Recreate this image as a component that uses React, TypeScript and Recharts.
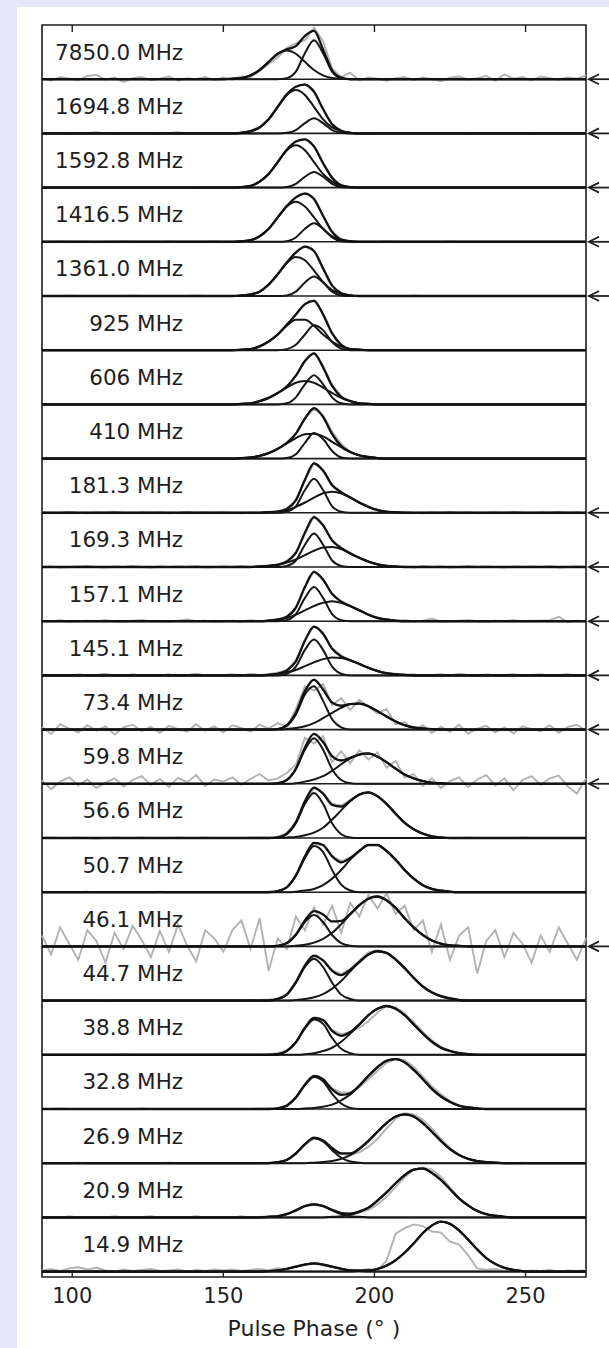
import React from 'react';
import { LineChart, Line, XAxis, YAxis, ReferenceLine, ReferenceArea, ReferenceDot } from 'recharts';

const FONT = '"DejaVu Sans", sans-serif';
const INK = '#1e1e1e';

// pulse phase grid (degrees)
const PHASE_START = 90;
const PHASE_END = 270;
const PHASE_STEP = 3;
const PHASE_TICKS = [100, 150, 200, 250];

// one panel per observing frequency, top to bottom
const LABELS = [
  '7850.0 MHz', '1694.8 MHz', '1592.8 MHz', '1416.5 MHz', '1361.0 MHz', '925 MHz',
  '606 MHz', '410 MHz', '181.3 MHz', '169.3 MHz', '157.1 MHz', '145.1 MHz',
  '73.4 MHz', '59.8 MHz', '56.6 MHz', '50.7 MHz', '46.1 MHz', '44.7 MHz',
  '38.8 MHz', '32.8 MHz', '26.9 MHz', '20.9 MHz', '14.9 MHz',
];

// panels marked with an arrow on the right
const MARKED = [
  true, true, true, true, true, false,
  false, false, true, true, true, true,
  true, true, false, false, true, false,
  false, false, false, false, false,
];

// fitted components: [first phase, values every 3 deg], in panel heights
const NARROW: [number, number[]][] = [
  [171, [0.02, 0.14, 0.48, 0.72, 0.48, 0.14, 0.02]],
  [171, [0.01, 0.06, 0.19, 0.28, 0.19, 0.06, 0.01]],
  [171, [0.01, 0.07, 0.20, 0.29, 0.20, 0.07, 0.01]],
  [171, [0.01, 0.08, 0.24, 0.34, 0.24, 0.08, 0.01]],
  [171, [0.01, 0.08, 0.25, 0.36, 0.25, 0.08, 0.01]],
  [171, [0.02, 0.10, 0.29, 0.46, 0.37, 0.15, 0.03]],
  [171, [0.02, 0.13, 0.37, 0.54, 0.37, 0.13, 0.02]],
  [171, [0.01, 0.08, 0.29, 0.47, 0.36, 0.14, 0.02]],
  [171, [0.02, 0.12, 0.42, 0.63, 0.42, 0.12, 0.02]],
  [171, [0.02, 0.12, 0.41, 0.62, 0.41, 0.12, 0.02]],
  [171, [0.02, 0.13, 0.43, 0.63, 0.43, 0.13, 0.02]],
  [171, [0.03, 0.16, 0.47, 0.66, 0.47, 0.16, 0.03]],
  [168, [0.01, 0.07, 0.28, 0.65, 0.80, 0.53, 0.19, 0.04]],
  [168, [0.01, 0.07, 0.27, 0.63, 0.84, 0.63, 0.27, 0.07, 0.01]],
  [168, [0.01, 0.07, 0.27, 0.63, 0.83, 0.63, 0.27, 0.07, 0.01]],
  [168, [0.02, 0.09, 0.30, 0.63, 0.85, 0.74, 0.41, 0.14, 0.03]],
  [168, [0.01, 0.06, 0.21, 0.45, 0.58, 0.45, 0.21, 0.06, 0.01]],
  [168, [0.03, 0.11, 0.33, 0.62, 0.77, 0.62, 0.33, 0.11, 0.03]],
  [168, [0.01, 0.07, 0.23, 0.49, 0.65, 0.57, 0.31, 0.11, 0.03]],
  [168, [0.01, 0.06, 0.21, 0.44, 0.59, 0.51, 0.28, 0.10, 0.02]],
  [168, [0.02, 0.06, 0.18, 0.35, 0.46, 0.40, 0.24, 0.10, 0.03, 0.01]],
  [165, [0.01, 0.02, 0.06, 0.13, 0.21, 0.24, 0.21, 0.13, 0.06, 0.02, 0.01]],
  [165, [0.01, 0.02, 0.05, 0.09, 0.13, 0.15, 0.13, 0.09, 0.05, 0.02, 0.01]],
];

const BROAD: [number, number[]][] = [
  [153, [0.01, 0.02, 0.07, 0.17, 0.32, 0.47, 0.53, 0.47, 0.32, 0.17, 0.07, 0.02, 0.01]],
  [156, [0.01, 0.04, 0.11, 0.26, 0.49, 0.71, 0.80, 0.71, 0.49, 0.26, 0.11, 0.04, 0.01]],
  [156, [0.01, 0.03, 0.11, 0.25, 0.47, 0.69, 0.78, 0.69, 0.47, 0.25, 0.11, 0.03, 0.01]],
  [156, [0.01, 0.03, 0.10, 0.24, 0.45, 0.65, 0.74, 0.65, 0.45, 0.24, 0.10, 0.03, 0.01]],
  [156, [0.01, 0.03, 0.08, 0.21, 0.40, 0.61, 0.72, 0.66, 0.47, 0.26, 0.11, 0.04, 0.01]],
  [156, [0.01, 0.02, 0.07, 0.16, 0.29, 0.45, 0.56, 0.56, 0.45, 0.29, 0.16, 0.07, 0.02, 0.01]],
  [156, [0.01, 0.02, 0.06, 0.12, 0.21, 0.31, 0.40, 0.43, 0.40, 0.31, 0.21, 0.12, 0.06, 0.02, 0.01]],
  [156, [0.01, 0.02, 0.05, 0.10, 0.18, 0.28, 0.38, 0.45, 0.46, 0.41, 0.31, 0.21, 0.12, 0.06, 0.03, 0.01]],
  [165, [0.01, 0.02, 0.05, 0.11, 0.19, 0.28, 0.36, 0.39, 0.36, 0.28, 0.19, 0.11, 0.05, 0.02, 0.01]],
  [162, [0.01, 0.02, 0.04, 0.08, 0.14, 0.22, 0.30, 0.36, 0.37, 0.33, 0.25, 0.17, 0.10, 0.05, 0.02, 0.01]],
  [165, [0.01, 0.03, 0.06, 0.12, 0.20, 0.28, 0.34, 0.37, 0.34, 0.28, 0.20, 0.12, 0.06, 0.03, 0.01]],
  [165, [0.01, 0.03, 0.06, 0.10, 0.17, 0.24, 0.30, 0.33, 0.32, 0.28, 0.21, 0.14, 0.08, 0.04, 0.02, 0.01]],
  [171, [0.01, 0.03, 0.06, 0.12, 0.21, 0.31, 0.40, 0.47, 0.48, 0.43, 0.34, 0.24, 0.15, 0.08, 0.04, 0.02, 0.01]],
  [174, [0.01, 0.04, 0.08, 0.14, 0.24, 0.36, 0.47, 0.54, 0.56, 0.50, 0.40, 0.28, 0.17, 0.10, 0.05, 0.02, 0.01]],
  [171, [0.01, 0.02, 0.05, 0.10, 0.19, 0.34, 0.51, 0.68, 0.80, 0.84, 0.77, 0.63, 0.45, 0.28, 0.16, 0.08, 0.03, 0.01]],
  [174, [0.01, 0.03, 0.06, 0.13, 0.25, 0.41, 0.60, 0.76, 0.87, 0.87, 0.76, 0.60, 0.41, 0.25, 0.13, 0.06, 0.03, 0.01]],
  [174, [0.01, 0.03, 0.07, 0.14, 0.25, 0.41, 0.59, 0.76, 0.88, 0.92, 0.85, 0.71, 0.52, 0.35, 0.21, 0.11, 0.05, 0.02, 0.01]],
  [174, [0.01, 0.03, 0.06, 0.12, 0.22, 0.36, 0.54, 0.71, 0.85, 0.91, 0.88, 0.76, 0.60, 0.42, 0.26, 0.15, 0.08, 0.04, 0.01]],
  [177, [0.01, 0.03, 0.07, 0.13, 0.24, 0.39, 0.56, 0.73, 0.85, 0.90, 0.85, 0.73, 0.56, 0.39, 0.24, 0.13, 0.07, 0.03, 0.01]],
  [177, [0.01, 0.02, 0.04, 0.08, 0.16, 0.27, 0.43, 0.61, 0.77, 0.89, 0.92, 0.86, 0.72, 0.55, 0.37, 0.23, 0.13, 0.06, 0.03, 0.01]],
  [180, [0.01, 0.02, 0.04, 0.08, 0.15, 0.26, 0.41, 0.58, 0.74, 0.86, 0.90, 0.86, 0.74, 0.58, 0.41, 0.26, 0.15, 0.08, 0.04, 0.02, 0.01]],
  [186, [0.01, 0.02, 0.05, 0.10, 0.18, 0.31, 0.46, 0.63, 0.78, 0.88, 0.90, 0.82, 0.69, 0.52, 0.35, 0.22, 0.12, 0.06, 0.03, 0.01]],
  [195, [0.01, 0.02, 0.05, 0.11, 0.21, 0.35, 0.52, 0.71, 0.85, 0.92, 0.88, 0.76, 0.59, 0.41, 0.25, 0.14, 0.07, 0.03, 0.01]],
];

// observed profiles, 90..270 deg every 3 deg, in panel heights
const OBSERVED: number[][] = [
  [0.02, -0.03, 0.04, 0.01, -0.02, 0.06, 0.08, -0.01, 0.03, -0.05, 0.02, 0.04, -0.02, 0.01, 0.05, -0.03, 0.02, 0, 0.04, -0.02,
    0.03, -0.01, 0.05, 0.04, 0.15, 0.28, 0.40, 0.58, 0.66, 0.72, 0.95, 0.70, 0.20, 0.04, 0.12, -0.02, 0.03, 0.01, -0.03, 0.02, 0.04, -0.02, 0.03, 0, -0.04, 0.03, 0.05, -0.01, 0.02, 0.06, -0.03, 0.09, 0.01, 0.04, -0.02,
    0.05, 0.02, -0.01, 0.03, 0.01, 0.07],
  [0.01, 0, 0.01, -0.01, 0, 0.01, 0.02, 0, -0.01, 0.01, 0, 0.01, 0, -0.01, 0.01, 0.02, 0, 0.01, 0, 0.01,
    0.01, 0, 0.02, 0.05, 0.12, 0.27, 0.50, 0.72, 0.87, 0.91, 0.76, 0.45, 0.17, 0.05, 0.01, 0, -0.01, 0, 0.01, 0, 0, 0.01, -0.01, 0, 0.01, 0, 0, -0.01, 0, 0.01, 0, 0, 0.01, 0, -0.01,
    0, 0.01, 0, 0, 0.01, 0],
  [0, 0.01, 0, 0, -0.01, 0, 0.01, 0, 0, 0.01, 0, 0, 0.01, 0, 0, -0.01, 0, 0.01, 0, 0,
    0, 0, 0.01, 0.03, 0.11, 0.25, 0.48, 0.70, 0.85, 0.90, 0.76, 0.45, 0.18, 0.05, 0.01, 0, 0, 0.01, 0, 0, 0, 0, 0.01, 0, 0, 0, 0, 0, 0.01, 0, 0, 0, 0, 0, 0,
    0, 0, 0, 0.01, 0, 0],
  [0, 0, 0.01, 0, 0, 0, -0.01, 0, 0, 0.01, 0, 0, 0, 0, 0.01, 0, 0, 0, 0, 0.01,
    0, 0, 0.01, 0.03, 0.11, 0.24, 0.45, 0.67, 0.82, 0.90, 0.79, 0.48, 0.19, 0.05, 0.01, 0, 0, 0, 0.01, 0, 0, 0, 0, 0, 0, 0.01, 0, 0, 0, 0, 0, 0, 0, 0, 0,
    0, 0, 0, 0, 0, 0],
  [0, 0, 0, 0.01, 0, 0, 0, 0, 0, 0, 0.01, 0, 0, 0, 0, 0, 0, 0.01, 0, 0,
    0, 0, 0.01, 0.03, 0.08, 0.21, 0.41, 0.63, 0.81, 0.91, 0.83, 0.52, 0.20, 0.05, 0.01, 0, 0, 0, 0, 0, 0, 0.01, 0, 0, 0, 0, 0, 0, 0, 0, 0, 0, 0, 0, 0,
    0, 0, 0, 0, 0, 0],
  [0, 0, 0, 0, 0, 0, 0, 0, 0, 0, 0, 0, 0, 0, 0, 0, 0, 0, 0, 0,
    0, 0, 0.01, 0.02, 0.07, 0.16, 0.29, 0.47, 0.66, 0.85, 0.92, 0.67, 0.31, 0.10, 0.02, 0.01, 0, 0, 0, 0, 0, 0, 0, 0, 0, 0, 0, 0, 0, 0, 0, 0, 0, 0, 0,
    0, 0, 0, 0, 0, 0],
  [0, 0, 0, 0, 0, 0, 0, 0, 0, 0, 0, 0, 0, 0, 0, 0, 0, 0, 0, 0,
    0, 0, 0.01, 0.02, 0.06, 0.12, 0.21, 0.33, 0.53, 0.80, 0.95, 0.72, 0.36, 0.15, 0.06, 0.02, 0.01, 0, 0, 0, 0, 0, 0, 0, 0, 0, 0, 0, 0, 0, 0, 0, 0, 0, 0,
    0, 0, 0, 0, 0, 0],
  [0, 0, 0, 0, 0, 0, 0, 0, 0, 0, 0, 0, 0, 0, 0, 0, 0, 0, 0, 0,
    0, 0, 0.01, 0.02, 0.05, 0.10, 0.18, 0.29, 0.46, 0.74, 0.92, 0.80, 0.50, 0.27, 0.13, 0.06, 0.03, 0.01, 0, 0, 0, 0, 0, 0, 0, 0, 0, 0, 0, 0, 0, 0, 0, 0, 0,
    0, 0, 0, 0, 0, 0],
  [0.01, -0.01, 0, 0.02, 0, -0.01, 0.01, 0, 0.02, 0, -0.01, 0.01, 0, 0.01, -0.01, 0, 0.02, 0, 0.01, 0,
    0.01, 0, -0.01, 0.01, 0, 0.02, 0.03, 0.08, 0.24, 0.60, 0.92, 0.77, 0.52, 0.38, 0.29, 0.18, 0.11, 0.06, 0.02, 0.01, 0.02, 0, -0.01, 0.01, 0, 0.02, 0, 0.01, -0.01, 0, 0.01, 0, 0.02, 0, -0.01,
    0.01, 0, 0.02, 0, 0.01, -0.01],
  [0, 0.01, -0.01, 0, 0.01, 0.02, 0, -0.01, 0.01, 0, 0.02, 0, -0.01, 0.01, 0, 0.01, 0, 0.02, -0.01, 0,
    0.01, 0, 0.02, 0, 0.02, 0.03, 0.05, 0.11, 0.27, 0.62, 0.93, 0.76, 0.50, 0.34, 0.26, 0.16, 0.10, 0.05, 0.03, 0, 0.01, -0.01, 0.02, 0, 0.01, -0.01, 0, 0.02, 0, 0.01, 0, -0.01, 0.01, 0, 0.01,
    0, 0.02, -0.01, 0, 0.01, 0],
  [0.01, 0, 0.02, -0.01, 0, 0.01, 0, 0.02, 0, -0.01, 0.01, 0.02, 0, 0, -0.01, 0.01, 0.03, 0, 0.01, -0.01,
    0, 0.01, -0.01, 0.02, 0, 0.02, 0.03, 0.09, 0.26, 0.64, 0.92, 0.76, 0.51, 0.37, 0.27, 0.21, 0.12, 0.07, 0.03, 0.01, 0.02, 0, 0.01, 0.05, -0.01, 0, 0.01, 0.02, 0, -0.01, 0.01, 0, 0.02, 0, 0.01,
    0.01, 0.02, 0.08, -0.02, 0.01, 0],
  [0.02, 0, 0.01, -0.01, 0.02, 0, 0.01, 0.03, 0, -0.01, 0.02, 0, 0.01, 0, 0.02, -0.01, 0.01, 0.03, 0, 0.01,
    0.01, 0.02, 0, 0.03, 0.01, 0.02, 0.05, 0.10, 0.27, 0.66, 0.91, 0.78, 0.50, 0.37, 0.27, 0.22, 0.13, 0.09, 0.03, 0.03, 0.01, 0.02, -0.01, 0.01, 0.02, 0, 0.03, 0.01, -0.01, 0.02, 0, 0.01, 0.02, 0, 0.01,
    0.02, 0, 0.01, 0.02, 0, 0.01],
  [0.05, -0.08, 0.10, 0.02, -0.05, 0.08, -0.02, 0.06, -0.09, 0.04, 0.09, -0.03, 0.05, -0.06, 0.07, 0.01, -0.04, 0.10, -0.02, 0.06,
    -0.05, 0.08, 0.03, -0.04, 0.09, 0.02, 0.12, 0.05, 0.38, 0.80, 0.72, 0.84, 0.45, 0.58, 0.36, 0.55, 0.42, 0.30, 0.38, 0.10, 0.14, -0.02, 0.08, -0.06, 0.05, -0.04, 0.09, -0.08, 0.02, 0.07, -0.05, 0.04, -0.07, 0.06, 0.01,
    -0.03, 0.08, -0.06, 0.05, 0.09, -0.02],
  [0.06, -0.10, 0.04, 0.12, -0.03, 0.08, -0.08, 0.02, 0.10, -0.05, 0.07, 0.14, -0.02, 0.09, -0.06, 0.11, 0.03, 0.16, -0.04, 0.08,
    0.04, 0.12, -0.02, 0.09, 0.18, 0.06, 0.10, 0.20, 0.35, 0.85, 0.74, 0.88, 0.40, 0.60, 0.38, 0.62, 0.45, 0.58, 0.30, 0.42, 0.12, 0.18, -0.04, 0.10, -0.08, 0.05, 0.12, -0.06, 0.08, 0.16, -0.03, 0.10, -0.12, 0.07, 0.14,
    -0.02, 0.10, 0.15, -0.05, -0.18, 0.10],
  [0, 0.01, 0, 0, 0.01, 0, -0.01, 0, 0.01, 0, 0, 0.01, 0, 0, 0, 0.01, 0, 0, 0.01, 0,
    0, 0, 0, 0.01, 0.01, 0.01, 0.02, 0.09, 0.30, 0.68, 0.92, 0.83, 0.63, 0.60, 0.70, 0.81, 0.85, 0.78, 0.62, 0.44, 0.28, 0.16, 0.08, 0.04, 0.01, 0, 0, 0.01, 0, 0, 0, 0, 0, 0.01, 0,
    0, 0, 0, 0, 0, 0],
  [0, 0, 0, 0, 0, 0.01, 0, 0, 0, 0, 0, 0, 0, 0.01, 0, 0, 0, 0, 0, 0,
    0, 0, 0, 0, 0, 0.01, 0.02, 0.09, 0.30, 0.66, 0.90, 0.86, 0.67, 0.57, 0.64, 0.77, 0.88, 0.88, 0.76, 0.59, 0.40, 0.25, 0.13, 0.06, 0.03, 0.01, 0, 0, 0, 0, 0, 0, 0, 0, 0,
    0, 0, 0, 0, 0, 0],
  [0.20, -0.15, 0.35, 0.05, -0.25, 0.30, 0.10, -0.30, 0.25, -0.05, 0.38, 0.12, -0.20, 0.28, -0.10, 0.40, 0.02, -0.28, 0.30, 0.15,
    -0.10, 0.30, 0.48, -0.05, 0.52, -0.45, 0.15, -0.05, 0.55, 0.30, 0.72, 0.40, 0.75, 0.25, 0.80, 0.55, 0.95, 0.70, 0.98, 0.60, 0.75, 0.30, 0.48, -0.10, 0.40, -0.25, 0.20, 0.35, -0.50, 0.10, 0.30, -0.20, 0.25, 0.05, -0.30,
    0.20, -0.10, 0.35, 0.05, -0.25, 0.15],
  [0, 0.01, 0, 0, 0, 0.01, 0, -0.01, 0, 0, 0.01, 0, 0, 0, 0.01, 0, 0, 0, 0, 0,
    0, 0, 0, 0.01, 0.01, 0.02, 0.04, 0.12, 0.34, 0.64, 0.82, 0.74, 0.56, 0.49, 0.58, 0.74, 0.89, 0.93, 0.88, 0.75, 0.58, 0.41, 0.26, 0.16, 0.09, 0.05, 0.02, 0.01, 0, 0, 0.01, 0, 0, 0, 0,
    0, 0, 0.01, 0, 0, 0],
  [0, 0, 0, 0, 0, 0, 0, 0, 0, 0.01, 0, 0, 0, 0, 0, 0, 0, 0, 0, 0,
    0, 0, 0, 0, 0, 0.01, 0.03, 0.08, 0.22, 0.48, 0.68, 0.64, 0.46, 0.38, 0.42, 0.50, 0.62, 0.78, 0.90, 0.88, 0.76, 0.60, 0.42, 0.27, 0.15, 0.08, 0.04, 0.02, 0.01, 0, 0, 0, 0, 0, 0,
    0, 0, 0, 0, 0, 0],
  [0, 0, 0.01, 0, 0, 0, 0, 0, 0, 0, 0, 0.01, 0, 0, 0, 0, 0, 0, 0, 0,
    0, 0, 0, 0, 0.01, 0.01, 0.02, 0.07, 0.22, 0.45, 0.60, 0.55, 0.38, 0.30, 0.31, 0.40, 0.55, 0.70, 0.85, 0.92, 0.90, 0.78, 0.60, 0.42, 0.27, 0.15, 0.07, 0.03, 0.01, 0, 0, 0, 0, 0, 0,
    0, 0, 0, 0, 0, 0],
  [0, 0, 0, 0, 0.01, 0, 0, 0, 0, 0, 0, 0, 0, 0, 0.01, 0, 0, 0, 0, 0,
    0, 0, 0, 0, 0, 0.01, 0.02, 0.06, 0.17, 0.34, 0.46, 0.42, 0.28, 0.17, 0.15, 0.20, 0.30, 0.45, 0.64, 0.82, 0.92, 0.90, 0.80, 0.64, 0.45, 0.28, 0.16, 0.08, 0.04, 0.02, 0.01, 0, 0, 0.01, 0,
    0, 0, 0, 0, 0, 0],
  [0, 0.01, -0.01, 0.02, 0, 0.01, -0.01, 0, 0.02, 0, -0.01, 0.01, 0.02, 0, -0.01, 0.01, 0, 0.02, 0, 0.01,
    0.01, 0, 0.02, 0, 0.01, 0.02, 0.03, 0.07, 0.12, 0.20, 0.23, 0.20, 0.14, 0.09, 0.07, 0.09, 0.14, 0.24, 0.38, 0.56, 0.74, 0.88, 0.92, 0.88, 0.75, 0.55, 0.36, 0.22, 0.11, 0.05, 0.02, 0.01, 0, 0.01, 0,
    0, 0.01, 0, -0.01, 0.01, 0],
  [0.02, 0.05, 0.01, 0.06, 0.08, 0.04, 0.07, 0.02, 0, 0.04, 0.01, 0.03, 0.05, 0.01, 0.02, 0.04, 0, 0.03, 0.01, 0.04,
    0.02, 0.04, 0.01, 0.03, 0.05, 0.02, 0.06, 0.04, 0.10, 0.12, 0.15, 0.11, 0.08, 0.06, 0.03, 0.02, 0.05, 0.02, 0.20, 0.70, 0.80, 0.87, 0.84, 0.74, 0.72, 0.55, 0.50, 0.30, 0.06, 0.03, 0.05, 0.01, 0.03, 0, 0.02,
    0.01, 0.03, 0, 0.02, 0.01, 0.03],
];

const NPANEL = LABELS.length;
const Y_BOTTOM = -0.1;
const LABEL_PHASE = 136.7;
const LABEL_RISE = 0.36;

const PHASES = OBSERVED[0].map((_, i) => PHASE_START + i * PHASE_STEP);

const compAt = ([from, v]: [number, number[]], x: number) => {
  const i = (x - from) / PHASE_STEP;
  return i >= 0 && i < v.length ? v[i] : 0;
};

const rows = PHASES.map((x, i) => {
  const row: Record<string, number> = { x };
  LABELS.forEach((_, k) => {
    const base = NPANEL - 1 - k;
    const n = compAt(NARROW[k], x);
    const b = compAt(BROAD[k], x);
    row[`o${k}`] = base + OBSERVED[k][i];
    row[`n${k}`] = base + n;
    row[`b${k}`] = base + b;
    row[`s${k}`] = base + n + b;
  });
  return row;
});

const BottomTick = ({ x, y, payload }: any) => (
  <g>
    <line x1={x} x2={x} y1={y} y2={y - 7} stroke={INK} strokeWidth={1.4} />
    <text x={x} y={y + 26} textAnchor="middle" fontSize={21} fontFamily={FONT} fill={INK}>
      {payload.value}
    </text>
  </g>
);

const TopTick = ({ x, y }: any) => (
  <line x1={x} x2={x} y1={y} y2={y + 7} stroke={INK} strokeWidth={1.4} />
);

const Arrow = ({ cx, cy }: any) => (
  <g stroke={INK} strokeWidth={1.8} fill="none">
    <line x1={cx + 3} y1={cy} x2={cx + 25} y2={cy} />
    <polyline points={`${cx + 13},${cy - 5} ${cx + 3},${cy} ${cx + 13},${cy + 5}`} />
  </g>
);

export default function App() {
  return (
    <div style={{ position: 'relative', width: 609, height: 1348, background: '#e6e6fa', overflow: 'hidden' }}>
      <style>{'body{margin:0}'}</style>
      <div style={{ position: 'absolute', left: 17, top: 7, right: 0, bottom: 0, background: '#fff' }} />
      <div style={{ position: 'absolute', left: 0, top: 0 }}>
        <LineChart width={609} height={1348} data={rows} margin={{ top: 24, right: 23, bottom: 11, left: 42 }}>
          <XAxis
            dataKey="x"
            type="number"
            domain={[PHASE_START, PHASE_END]}
            ticks={PHASE_TICKS}
            axisLine={false}
            tickLine={false}
            tickSize={0}
            tickMargin={0}
            height={60}
            tick={<BottomTick />}
          />
          <XAxis
            xAxisId="top"
            orientation="top"
            dataKey="x"
            type="number"
            domain={[PHASE_START, PHASE_END]}
            ticks={PHASE_TICKS}
            axisLine={false}
            tickLine={false}
            tickSize={0}
            tickMargin={0}
            height={1}
            tick={<TopTick />}
          />
          <YAxis hide type="number" domain={[Y_BOTTOM, NPANEL]} allowDataOverflow />
          {LABELS.map((_, k) => (
            <ReferenceLine key={`sep${k}`} y={NPANEL - 1 - k} stroke={INK} strokeWidth={1.6} />
          ))}
          {LABELS.map((_, k) => (
            <Line key={`o${k}`} dataKey={`o${k}`} type="linear" stroke="#b2b2b2" strokeWidth={1.9}
              dot={false} isAnimationActive={false} />
          ))}
          {LABELS.map((_, k) => (
            <Line key={`n${k}`} dataKey={`n${k}`} type="monotone" stroke="#161616" strokeWidth={2}
              dot={false} isAnimationActive={false} />
          ))}
          {LABELS.map((_, k) => (
            <Line key={`b${k}`} dataKey={`b${k}`} type="monotone" stroke="#161616" strokeWidth={2}
              dot={false} isAnimationActive={false} />
          ))}
          {LABELS.map((_, k) => (
            <Line key={`s${k}`} dataKey={`s${k}`} type="monotone" stroke="#111" strokeWidth={2.3}
              dot={false} isAnimationActive={false} />
          ))}
          <ReferenceArea x1={PHASE_START} x2={PHASE_END} y1={Y_BOTTOM} y2={NPANEL}
            fill="none" stroke={INK} strokeWidth={1.6} ifOverflow="visible" />
          {LABELS.map((label, k) => (
            <ReferenceDot key={`lab${k}`} x={LABEL_PHASE} y={NPANEL - 1 - k + LABEL_RISE} r={0}
              shape={(p: any) => (
                <text x={p.cx} y={p.cy} textAnchor="end" fontSize={21.5} fontFamily={FONT} fill={INK}>
                  {label}
                </text>
              )} />
          ))}
          {LABELS.map((_, k) => MARKED[k] ? (
            <ReferenceDot key={`arr${k}`} x={PHASE_END} y={NPANEL - 1 - k} r={0} ifOverflow="visible"
              shape={(p: any) => <Arrow cx={p.cx} cy={p.cy} />} />
          ) : null)}
        </LineChart>
      </div>
      <div style={{
        position: 'absolute', left: 42, width: 544, top: 1316, textAlign: 'center',
        fontFamily: FONT, fontSize: 22, color: INK, lineHeight: 'normal', whiteSpace: 'nowrap',
      }}>
        Pulse Phase (° )
      </div>
    </div>
  );
}
